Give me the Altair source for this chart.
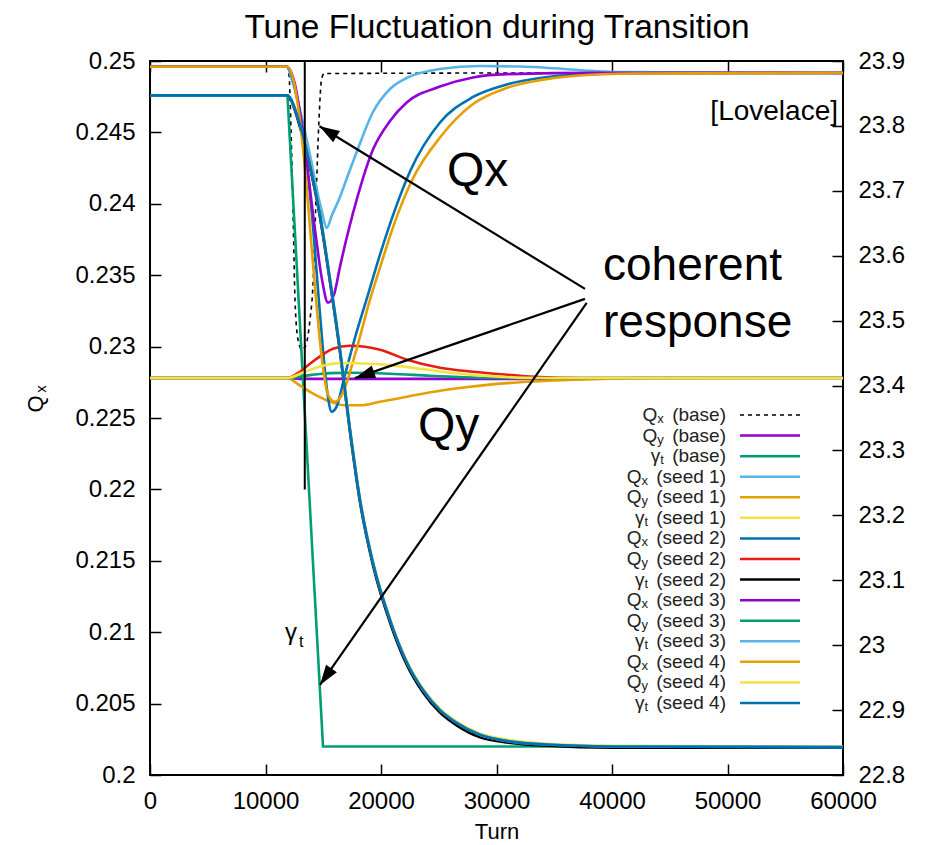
import math
import altair as alt
import pandas as pd

# ------------------------------------------------------------------ data
TITLE = "Tune Fluctuation during Transition"
X_LABEL = "Turn"
X_TICKS = [0, 10000, 20000, 30000, 40000, 50000, 60000]
QX_TICKS = [0.2, 0.205, 0.21, 0.215, 0.22, 0.225, 0.23, 0.235, 0.24, 0.245, 0.25]
GT_TICKS = [22.8, 22.9, 23.0, 23.1, 23.2, 23.3, 23.4, 23.5, 23.6, 23.7, 23.8, 23.9]

# Qx (base)  -- left axis
qx_base_turn = [0, 11861, 12035, 12208, 12381, 12554, 12814, 13160, 13506, 13853, 14113, 14372, 14632, 14848, 15065, 37489]
qx_base_val = [0.2496, 0.2496, 0.24905, 0.2452, 0.23959, 0.23329, 0.23049, 0.22978, 0.23013, 0.23189, 0.23434, 0.24029, 0.2459, 0.2487, 0.24912, 0.24917]
# Qy (base)
qy_base_turn = [0, 11861, 12987, 37489]
qy_base_val = [0.2278, 0.2278, 0.22774, 0.22774]
# gamma_t (base) -- right axis
gt_base_turn = [0, 11900, 14980, 37230]
gt_base_val = [23.847, 23.847, 22.844, 22.844]

# Qx (seed 1)
qx_s1_turn = [0, 11861, 12294, 12987, 13853, 14545, 14900, 15299, 15750, 16450, 17143, 17896, 19307, 20779, 22225, 25108, 28571, 32035, 40693, 60000]
qx_s1_val = [0.2496, 0.2496, 0.24867, 0.24657, 0.24342, 0.24062, 0.2394, 0.23831, 0.2392, 0.24048, 0.24202, 0.24363, 0.24643, 0.24804, 0.24881, 0.24944, 0.24965, 0.24961, 0.24923, 0.24914]
# Qy (seed 1)
qy_s1_turn = [0, 11861, 12987, 14286, 15585, 16883, 18182, 19913, 22251, 25108, 27706, 30909, 36623, 42424, 60000]
qy_s1_val = [0.2278, 0.2278, 0.22726, 0.22663, 0.22614, 0.22589, 0.22589, 0.22614, 0.22649, 0.22691, 0.22719, 0.22744, 0.22768, 0.22779, 0.2278]
# gamma_t (seed 1)
gt_s1_turn = [0, 11861, 12987, 13853, 14719, 15585, 16450, 17316, 18182, 19307, 20779, 22251, 23637, 25108, 26580, 28571, 31429, 34372, 40087, 60000]
gt_s1_val = [23.847, 23.847, 23.804, 23.742, 23.665, 23.565, 23.457, 23.334, 23.226, 23.129, 23.041, 22.975, 22.933, 22.902, 22.882, 22.864, 22.853, 22.848, 22.845, 22.844]

# Qx (seed 2)
qx_s2_turn = [0, 11861, 12554, 13420, 14026, 14545, 14978, 15325, 15732, 16164, 16883, 17749, 18875, 19913, 21212, 22511, 25108, 27965, 30909, 33766, 36623, 42000, 60000]
qx_s2_val = [0.2496, 0.2496, 0.24814, 0.2438, 0.23925, 0.23399, 0.22978, 0.22698, 0.22544, 0.22581, 0.22803, 0.23062, 0.23364, 0.23644, 0.23959, 0.24226, 0.24569, 0.24748, 0.24836, 0.24881, 0.24903, 0.24914, 0.24917]
# Qy (seed 2)
qy_s2_turn = [0, 11861, 12987, 13853, 14719, 15844, 17316, 18615, 19913, 22251, 25108, 27965, 30909, 33766, 37229, 60000]
qy_s2_val = [0.2278, 0.2278, 0.22824, 0.2288, 0.22931, 0.22985, 0.23006, 0.22999, 0.22978, 0.22908, 0.22852, 0.22824, 0.22803, 0.22786, 0.2278, 0.2278]
# gamma_t (seed 2)
gt_s2_turn = [0, 11861, 12987, 13853, 14719, 15585, 16450, 17316, 18182, 19307, 20779, 22251, 23637, 25108, 26580, 28571, 31429, 34372, 40087, 60000]
gt_s2_val = [23.847, 23.847, 23.798, 23.736, 23.659, 23.559, 23.451, 23.328, 23.22, 23.123, 23.035, 22.969, 22.927, 22.896, 22.876, 22.858, 22.849, 22.845, 22.842, 22.842]

# Qx (seed 3)
qx_s3_turn = [0, 11861, 12554, 13420, 14286, 14892, 15411, 15930, 16450, 17896, 19307, 20779, 22225, 25108, 27965, 30909, 38961, 60000]
qx_s3_val = [0.2496, 0.2496, 0.24835, 0.2438, 0.23819, 0.23469, 0.23308, 0.23364, 0.2356, 0.24029, 0.2438, 0.2458, 0.24709, 0.24821, 0.24885, 0.24908, 0.24917, 0.24917]
# Qy (seed 3)
qy_s3_turn = [0, 11861, 13853, 15585, 17316, 20779, 24242, 28571, 32035, 60000]
qy_s3_val = [0.2278, 0.2278, 0.228, 0.22814, 0.22817, 0.2281, 0.22796, 0.22782, 0.2278, 0.2278]
# gamma_t (seed 3)
gt_s3_turn = [0, 11861, 12987, 13853, 14719, 15585, 16450, 17316, 18182, 19307, 20779, 22251, 23637, 25108, 26580, 28571, 31429, 34372, 40087, 60000]
gt_s3_val = [23.847, 23.847, 23.802, 23.74, 23.663, 23.563, 23.455, 23.332, 23.224, 23.127, 23.039, 22.973, 22.931, 22.9, 22.88, 22.862, 22.851, 22.847, 22.844, 22.843]

# Qx (seed 4)
qx_s4_turn = [0, 11861, 12554, 12987, 13567, 13853, 14286, 14892, 15411, 16017, 16623, 17749, 19048, 19913, 21212, 22511, 25108, 27965, 30909, 33766, 36623, 42000, 60000]
qx_s4_val = [0.2496, 0.2496, 0.24814, 0.24578, 0.24114, 0.23833, 0.23413, 0.22908, 0.22663, 0.22614, 0.22663, 0.22943, 0.23329, 0.23553, 0.23875, 0.24135, 0.24464, 0.24699, 0.24812, 0.24866, 0.24895, 0.24912, 0.24917]
# Qy (seed 4)
qy_s4_turn = [0, 11861, 13420, 14719, 16710, 19048, 20779, 23377, 26840, 30303, 33766, 60000]
qy_s4_val = [0.2278, 0.2278, 0.22824, 0.22861, 0.22885, 0.2288, 0.2287, 0.22845, 0.2281, 0.22789, 0.2278, 0.22778]
# gamma_t (seed 4)
gt_s4_turn = gt_s3_turn
gt_s4_val = gt_s3_val

# legend / series definitions (gnuplot plotting order)
SER_SYM = ["Q", "Q", "γ"] * 5
SER_SUB = ["x", "y", "t"] * 5
SER_RUN = ["base"] * 3 + ["seed 1"] * 3 + ["seed 2"] * 3 + ["seed 3"] * 3 + ["seed 4"] * 3
SER_COLOR = ["#000000", "#9400d3", "#009e73",
             "#56b4e9", "#e69f00", "#f0e442",
             "#0072b2", "#e51e10", "#000000",
             "#9400d3", "#009e73", "#56b4e9",
             "#e69f00", "#f0e442", "#0072b2"]
SER_TURN = [qx_base_turn, qy_base_turn, gt_base_turn,
            qx_s1_turn, qy_s1_turn, gt_s1_turn,
            qx_s2_turn, qy_s2_turn, gt_s2_turn,
            qx_s3_turn, qy_s3_turn, gt_s3_turn,
            qx_s4_turn, qy_s4_turn, gt_s4_turn]
SER_VAL = [qx_base_val, qy_base_val, gt_base_val,
           qx_s1_val, qy_s1_val, gt_s1_val,
           qx_s2_val, qy_s2_val, gt_s2_val,
           qx_s3_val, qy_s3_val, gt_s3_val,
           qx_s4_val, qy_s4_val, gt_s4_val]

# annotations
TRANSITION_TURN = 13400
TRANSITION_Q = [0.22, 0.25]
ARROW_TAIL_TURN = [37662, 37662, 37809]
ARROW_TAIL_Q = [0.23404, 0.23334, 0.23306]
ARROW_HEAD_TURN = [14675, 17749, 14719]
ARROW_HEAD_Q = [0.24543, 0.22779, 0.20631]

# ------------------------------------------------------------------ layout
PX0, PY0 = 150, 61      # page position of the plot area's top-left corner
W, H = 693, 714
AF = "Liberation Sans"
X_DOM = [0, 60000]
YL_DOM = [0.2, 0.25]
YR_DOM = [22.8, 23.9]


def xs():
    return alt.Scale(domain=X_DOM, nice=False, zero=False)


def ys(side):
    return alt.Scale(domain=YL_DOM if side == "L" else YR_DOM, nice=False, zero=False)


tick_common = dict(tickColor="black", tickWidth=1.5, tickSize=11, offset=-11, domain=False,
                   grid=False, labelFont=AF, labelFontSize=24, labelColor="black", title=None)

ax_bottom = alt.Axis(orient="bottom", values=X_TICKS, format="d", labelPadding=14,
                     labelFlush=False, labelOverlap=False, **tick_common)
ax_top = alt.Axis(orient="top", values=X_TICKS, labels=False, **tick_common)
ax_left = alt.Axis(orient="left", values=QX_TICKS, format="~g", labelPadding=15,
                   labelOverlap=False, **tick_common)
ax_right = alt.Axis(orient="right", values=GT_TICKS, format="~g", labelPadding=15,
                    labelOverlap=False, **tick_common)

layers = []
for i in range(15):
    side = "R" if SER_SYM[i] == "γ" else "L"
    df = pd.DataFrame({"turn": SER_TURN[i], "v": SER_VAL[i]})
    mk = dict(color=SER_COLOR[i], strokeWidth=2.6, clip=True,
              interpolate="linear" if i == 2 else "monotone")
    if i == 0:
        mk.update(strokeWidth=1.6, strokeDash=[4, 4])
    xa = None
    ya = None
    if i == 0:
        xa, ya = ax_bottom, ax_left
    if i == 2:
        xa, ya = ax_top, ax_right
    layers.append(alt.Chart(df).mark_line(**mk).encode(
        x=alt.X("turn:Q", scale=xs(), axis=xa),
        y=alt.Y("v:Q", scale=ys(side), axis=ya),
    ))

# transition marker
layers.append(alt.Chart(pd.DataFrame({"t": [TRANSITION_TURN], "q0": [TRANSITION_Q[0]], "q1": [TRANSITION_Q[1]]}))
              .mark_rule(color="black", strokeWidth=2)
              .encode(x=alt.X("t:Q", scale=xs(), axis=None),
                      y=alt.Y("q0:Q", scale=ys("L"), axis=None), y2="q1:Q"))

# arrows
def to_px(t, q):
    return W * t / 60000.0, H * (0.25 - q) / 0.05

ang = []
for i in range(3):
    x0, y0 = to_px(ARROW_TAIL_TURN[i], ARROW_TAIL_Q[i])
    x1, y1 = to_px(ARROW_HEAD_TURN[i], ARROW_HEAD_Q[i])
    ang.append(math.degrees(math.atan2(y1 - y0, x1 - x0)) % 360)
arr = pd.DataFrame({"t0": ARROW_TAIL_TURN, "q0": ARROW_TAIL_Q,
                    "t1": ARROW_HEAD_TURN, "q1": ARROW_HEAD_Q, "ang": ang})
layers.append(alt.Chart(arr).mark_rule(color="black", strokeWidth=2.2).encode(
    x=alt.X("t0:Q", scale=xs(), axis=None), y=alt.Y("q0:Q", scale=ys("L"), axis=None),
    x2="t1:Q", y2="q1:Q"))
layers.append(alt.Chart(arr).mark_point(shape="M0,0L-1,-0.33L-1,0.33Z", filled=True, size=1600,
                                        color="black", opacity=1, strokeWidth=0).encode(
    x=alt.X("t1:Q", scale=xs(), axis=None), y=alt.Y("q1:Q", scale=ys("L"), axis=None),
    angle=alt.Angle("ang:Q", scale=None)))


def text_at(txt, px, py, size, align="left", baseline="alphabetic", angle=0, font=AF):
    kw = dict(align=align, baseline=baseline, fontSize=size, font=font, color="black")
    if angle:
        kw["angle"] = angle
    return alt.Chart(pd.DataFrame({"t": [txt]})).mark_text(**kw).encode(
        x=alt.value(px - PX0), y=alt.value(py - PY0), text="t:N")


layers.append(text_at(TITLE, 497, 38, 33.5, align="center"))
layers.append(text_at(X_LABEL, 497, 839, 22, align="center"))
layers.append(text_at("Q", 36, 404, 22, align="center", baseline="middle", angle=270))
layers.append(text_at("x", 41, 389, 15, align="center", baseline="middle", angle=270))
layers.append(text_at("[Lovelace]", 838, 120, 28, align="right"))
layers.append(text_at("Qx", 447, 186, 48))
layers.append(text_at("coherent", 603, 280, 46))
layers.append(text_at("response", 603, 337, 46))
layers.append(text_at("Qy", 418, 441, 48))
layers.append(text_at("γ", 285, 640, 24))
layers.append(text_at("t", 299, 647, 16))

# legend (manual, gnuplot style with subscripts)
AW = {" ": .278, "(": .333, ")": .333, "b": .556, "a": .556, "s": .5, "e": .556, "d": .556,
      "1": .556, "2": .556, "3": .556, "4": .556, "x": .5, "y": .5, "t": .278, "Q": .778, "γ": .5}
LFS, SFS = 19, 13
L_RIGHT, L_Y0, L_DY = 726, 415, 20.57
rows = []
for i in range(15):
    suffix = " (" + SER_RUN[i] + ")"
    wsuf = sum(AW[c] for c in suffix) * LFS + 3
    wsub = AW[SER_SUB[i]] * SFS
    y = L_Y0 + i * L_DY
    rows.append(dict(t=suffix, px=L_RIGHT - PX0, py=y - PY0, k="suf"))
    rows.append(dict(t=SER_SUB[i], px=L_RIGHT - wsuf - PX0, py=y + 4 - PY0, k="sub"))
    rows.append(dict(t=SER_SYM[i], px=L_RIGHT - wsuf - wsub - PX0, py=y - PY0, k="sym"))
leg = pd.DataFrame(rows)
for k, fs in (("suf", LFS), ("sub", SFS), ("sym", LFS)):
    layers.append(alt.Chart(leg[leg.k == k]).mark_text(align="right", baseline="middle", font=AF,
                                                       fontSize=fs, color="#222222").encode(
        x=alt.X("px:Q", scale=None), y=alt.Y("py:Q", scale=None), text="t:N"))
leg_lines = pd.DataFrame({"py": [L_Y0 + i * L_DY - PY0 for i in range(15)], "c": SER_COLOR,
                          "dash": ["d" if i == 0 else "s" for i in range(15)]})
layers.append(alt.Chart(leg_lines[leg_lines.dash == "s"]).mark_rule(strokeWidth=2.5).encode(
    x=alt.value(740 - PX0), x2=alt.value(800 - PX0), y=alt.Y("py:Q", scale=None),
    color=alt.Color("c:N", scale=None)))
layers.append(alt.Chart(leg_lines[leg_lines.dash == "d"]).mark_rule(strokeWidth=1.6, strokeDash=[4, 4]).encode(
    x=alt.value(740 - PX0), x2=alt.value(800 - PX0), y=alt.Y("py:Q", scale=None),
    color=alt.Color("c:N", scale=None)))

chart = (alt.layer(*layers)
         .resolve_scale(x="independent", y="independent")
         .properties(width=W, height=H,
                     autosize=alt.AutoSizeParams(type="none"),
                     padding={"left": PX0 - 8, "top": PY0 - 8, "right": 928 - 16 - (PX0 - 8) - W,
                              "bottom": 845 - PY0 - H})
         .configure(background="white")
         .configure_view(stroke="black", strokeWidth=2))

chart.save("out.html", embed_options={"renderer": "svg", "actions": False})
